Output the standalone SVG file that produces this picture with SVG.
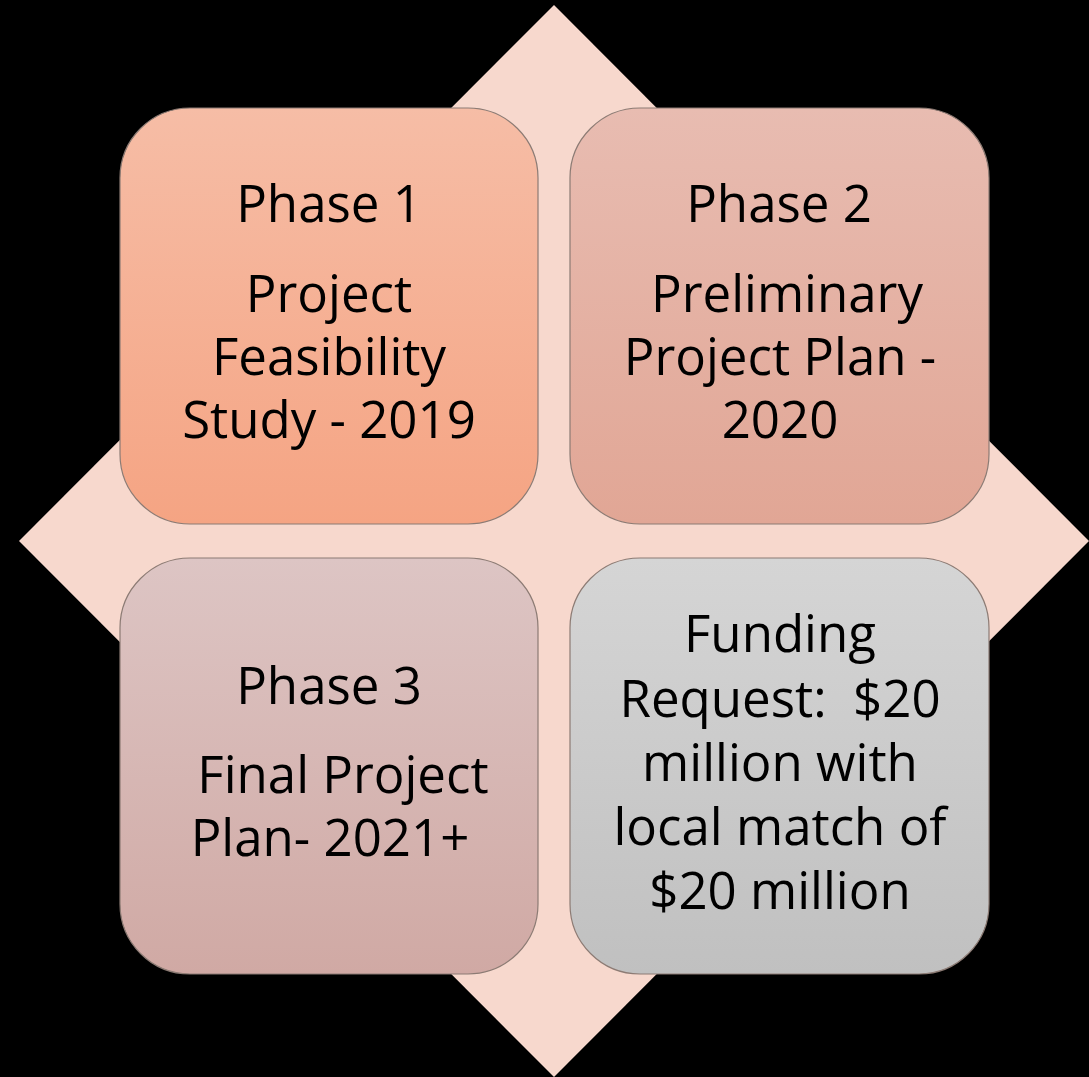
<svg xmlns="http://www.w3.org/2000/svg" width="1089" height="1077" viewBox="0 0 1089 1077">
<defs>
<linearGradient id="g1" x1="0" y1="0" x2="0" y2="1"><stop offset="0" stop-color="#F6BDA6"/><stop offset="1" stop-color="#F5A483"/></linearGradient>
<linearGradient id="g2" x1="0" y1="0" x2="0" y2="1"><stop offset="0" stop-color="#E8BCB1"/><stop offset="1" stop-color="#E1A695"/></linearGradient>
<linearGradient id="g3" x1="0" y1="0" x2="0" y2="1"><stop offset="0" stop-color="#DDC5C4"/><stop offset="1" stop-color="#D0A9A4"/></linearGradient>
<linearGradient id="g4" x1="0" y1="0" x2="0" y2="1"><stop offset="0" stop-color="#D5D5D5"/><stop offset="1" stop-color="#C0C0C0"/></linearGradient>
</defs>
<style>
.box{stroke:#8C7B74;stroke-width:1.2}
.t{font-family:"Open Sans","Liberation Sans",sans-serif;font-size:51px;fill:#000;text-anchor:middle;white-space:pre}
</style>
<rect width="1089" height="1077" fill="#000"/>
<polygon points="554,5 1089,541 554,1077 19,541" fill="#F7D8CD"/>
<g id="phase1">
<rect class="box" x="120" y="108" width="418" height="416" rx="70" fill="url(#g1)"/>
<text class="t" x="329" y="222">Phase 1</text>
<text class="t" x="329" y="312">Project</text>
<text class="t" x="329" y="375">Feasibility</text>
<text class="t" x="329" y="438">Study - 2019</text>
</g>
<g id="phase2">
<rect class="box" x="570" y="108" width="419" height="416" rx="70" fill="url(#g2)"/>
<text class="t" x="779" y="222">Phase 2</text>
<text class="t" x="787" y="312">Preliminary</text>
<text class="t" x="780" y="375">Project Plan -</text>
<text class="t" x="780" y="438">2020</text>
</g>
<g id="phase3">
<rect class="box" x="120" y="558" width="418" height="416" rx="70" fill="url(#g3)"/>
<text class="t" x="329" y="704">Phase 3</text>
<text class="t" x="343" y="793">Final Project</text>
<text class="t" x="330" y="856">Plan- 2021+</text>
</g>
<g id="funding">
<rect class="box" x="570" y="558" width="419" height="416" rx="70" fill="url(#g4)"/>
<text class="t" x="780" y="652">Funding</text>
<text class="t" x="780" y="717" xml:space="preserve">Request:  $20</text>
<text class="t" x="780" y="781">million with</text>
<text class="t" x="780" y="845">local match of</text>
<text class="t" x="780" y="909">$20 million</text>
</g>
<g id="connectors"/>
</svg>
